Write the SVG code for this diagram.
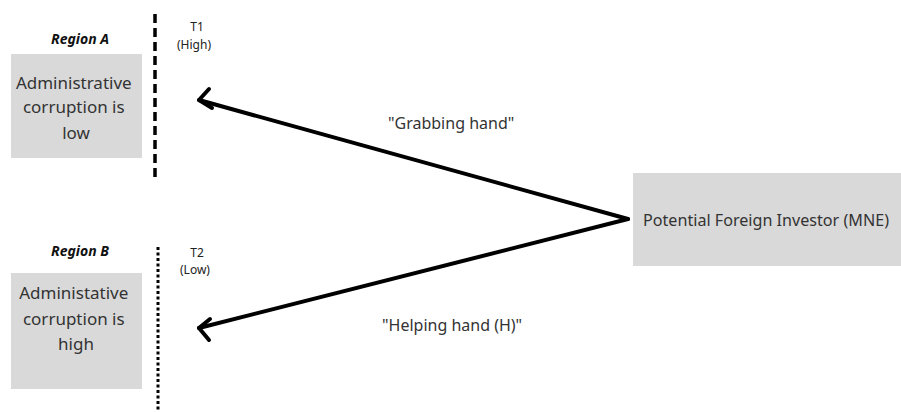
<svg xmlns="http://www.w3.org/2000/svg" width="901" height="412" viewBox="0 0 901 412">
  <style>
    .box { fill: #d9d9d9; }
    .body { font-family: "Noto Sans", "Open Sans", sans-serif; fill: #333333; }
    .region { font-family: "Noto Sans", "Open Sans", sans-serif; font-weight: bold; font-style: italic; font-size: 14px; fill: #111111; }
    .tag { font-family: "Noto Sans", "Open Sans", sans-serif; font-size: 12px; fill: #222222; }
    .edge { stroke: #000000; stroke-width: 4; fill: none; stroke-linecap: round; }
    .head { stroke: #000000; stroke-width: 4; fill: none; stroke-linecap: round; stroke-linejoin: round; }
  </style>
  <rect width="901" height="412" fill="#ffffff"/>

  <!-- Region A -->
  <g id="region-a">
    <text class="region" x="80" y="44" text-anchor="middle">Region A</text>
    <rect class="box" x="11" y="54" width="131" height="104"/>
    <text class="body" font-size="17" text-anchor="middle">
      <tspan x="76" y="89">Administrative</tspan>
      <tspan x="76" y="113">corruption is</tspan>
      <tspan x="76" y="139">low</tspan>
    </text>
  </g>

  <!-- Threshold T1 -->
  <g id="threshold-t1">
    <line x1="155" y1="14" x2="155" y2="178" stroke="#000" stroke-width="3.5" stroke-dasharray="9 5"/>
    <text class="tag" x="197" y="31" text-anchor="middle">T1</text>
    <text class="tag" x="194" y="49" text-anchor="middle">(High)</text>
  </g>

  <!-- Region B -->
  <g id="region-b">
    <text class="region" x="80" y="256" text-anchor="middle">Region B</text>
    <rect class="box" x="11" y="273" width="131" height="116"/>
    <text class="body" font-size="17" text-anchor="middle">
      <tspan x="76" y="299">Administative</tspan>
      <tspan x="76" y="325">corruption is</tspan>
      <tspan x="76" y="350">high</tspan>
    </text>
  </g>

  <!-- Threshold T2 -->
  <g id="threshold-t2">
    <line x1="158" y1="247" x2="158" y2="412" stroke="#000" stroke-width="3" stroke-dasharray="3 2.5"/>
    <text class="tag" x="197" y="257" text-anchor="middle">T2</text>
    <text class="tag" x="195" y="274" text-anchor="middle">(Low)</text>
  </g>

  <!-- Investor -->
  <g id="investor">
    <rect class="box" x="633" y="173" width="268" height="93"/>
    <text class="body" font-size="16.5" x="643" y="226" textLength="246" lengthAdjust="spacingAndGlyphs">Potential Foreign Investor (MNE)</text>
  </g>

  <!-- Connectors -->
  <g id="connectors">
    <line class="edge" x1="628" y1="219" x2="199" y2="100"/>
    <polyline class="head" points="209,89 199,100 212,108"/>
    <line class="edge" x1="628" y1="219" x2="199" y2="328"/>
    <polyline class="head" points="210,319 199,328 209,340"/>
    <text class="body" font-size="16" x="388" y="129">"Grabbing hand"</text>
    <text class="body" font-size="16" x="382" y="331">"Helping hand (H)"</text>
  </g>
</svg>
